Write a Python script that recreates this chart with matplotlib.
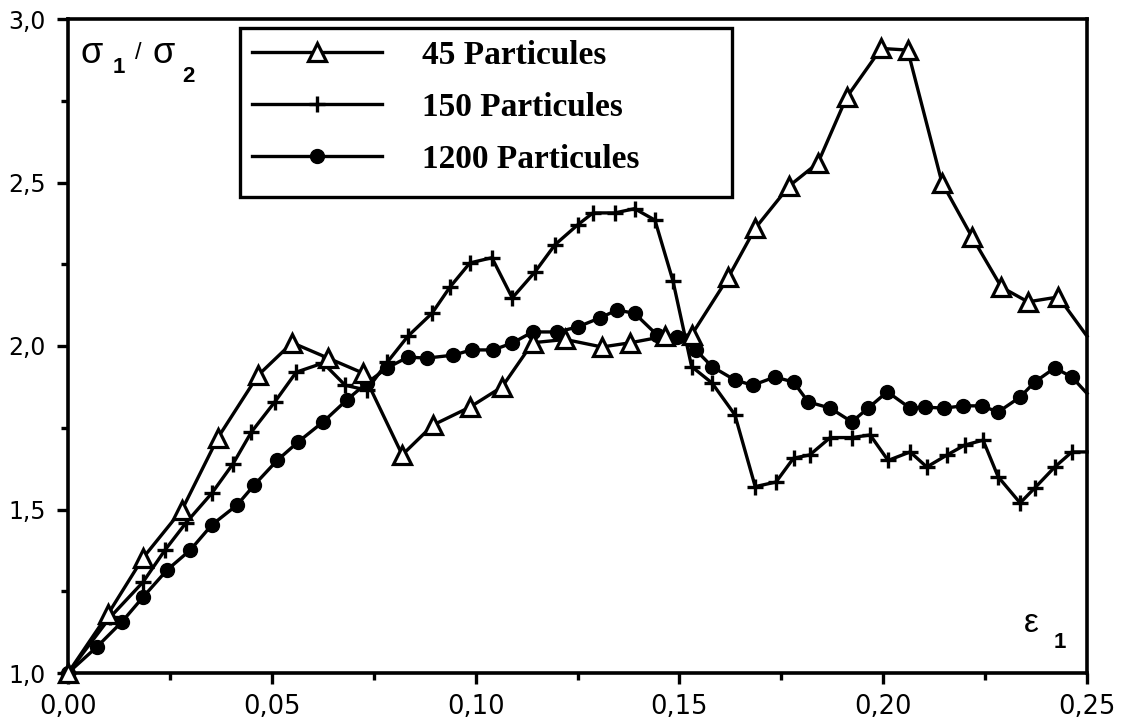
import matplotlib
matplotlib.use("Agg")
import matplotlib.pyplot as plt
from matplotlib.ticker import FixedLocator, FixedFormatter, MultipleLocator
from matplotlib.patches import Rectangle

# ---------------- data ----------------
eps45 = [0, 0.0098, 0.0184, 0.028, 0.0368, 0.0466, 0.055, 0.0638, 0.0724, 0.082,
         0.0895, 0.0986, 0.1065, 0.114, 0.122, 0.131, 0.138, 0.1465, 0.153, 0.162,
         0.1686, 0.177, 0.184, 0.191, 0.1995, 0.206, 0.2144, 0.2218, 0.229, 0.2355,
         0.243, 0.25]
s45 = [1.0, 1.18, 1.352, 1.50, 1.72, 1.91, 2.01, 1.963, 1.917, 1.667,
       1.758, 1.813, 1.875, 2.01, 2.02, 1.997, 2.01, 2.03, 2.034, 2.21,
       2.36, 2.49, 2.56, 2.76, 2.91, 2.905, 2.50, 2.333, 2.18, 2.135,
       2.15, 2.03]

eps150 = [0, 0.0103, 0.0184, 0.0238, 0.029, 0.0353, 0.0405, 0.045, 0.0508, 0.056,
          0.0626, 0.068, 0.0733, 0.0783, 0.0834, 0.0893, 0.0937, 0.0986, 0.104, 0.109,
          0.1146, 0.1195, 0.125, 0.1288, 0.1342, 0.139, 0.144, 0.1484, 0.153, 0.158,
          0.1636, 0.1686, 0.1737, 0.178, 0.182, 0.187, 0.1923, 0.1968, 0.2012, 0.2066,
          0.2107, 0.2157, 0.22, 0.2245, 0.2282, 0.2336, 0.2372, 0.2421, 0.2463, 0.25]
s150 = [1.0, 1.17, 1.278, 1.376, 1.46, 1.55, 1.64, 1.737, 1.83, 1.92,
        1.948, 1.88, 1.865, 1.95, 2.03, 2.10, 2.18, 2.254, 2.27, 2.147,
        2.227, 2.31, 2.37, 2.407, 2.407, 2.42, 2.385, 2.20, 1.937, 1.887,
        1.79, 1.57, 1.584, 1.657, 1.667, 1.72, 1.72, 1.728, 1.65, 1.676,
        1.63, 1.667, 1.697, 1.712, 1.60, 1.52, 1.566, 1.63, 1.676, 1.676]

eps1200 = [0, 0.0071, 0.0132, 0.0184, 0.0243, 0.03, 0.0353, 0.0415, 0.0457, 0.0513,
           0.0564, 0.0626, 0.0684, 0.0733, 0.0783, 0.0834, 0.088, 0.0945, 0.099, 0.1043,
           0.109, 0.114, 0.12, 0.125, 0.1305, 0.1347, 0.139, 0.1445, 0.1494, 0.154,
           0.158, 0.1636, 0.168, 0.1734, 0.178, 0.1816, 0.187, 0.1923, 0.1963, 0.201,
           0.2066, 0.2103, 0.2149, 0.2196, 0.2242, 0.2282, 0.2336, 0.2372, 0.2421, 0.2463,
           0.25]
s1200 = [1.0, 1.08, 1.156, 1.232, 1.315, 1.376, 1.453, 1.514, 1.575, 1.65,
         1.706, 1.768, 1.835, 1.887, 1.933, 1.966, 1.963, 1.972, 1.988, 1.988,
         2.009, 2.043, 2.043, 2.058, 2.086, 2.11, 2.10, 2.034, 2.028, 1.988,
         1.937, 1.896, 1.88, 1.905, 1.89, 1.829, 1.81, 1.768, 1.81, 1.86,
         1.81, 1.813, 1.81, 1.817, 1.817, 1.798, 1.844, 1.89, 1.933, 1.905,
         1.855]

labels = ["45 Particules", "150 Particules", "1200 Particules"]
xticks = [0.0, 0.05, 0.10, 0.15, 0.20, 0.25]
xticklabels = ["0,00", "0,05", "0,10", "0,15", "0,20", "0,25"]
yticks = [1.0, 1.5, 2.0, 2.5, 3.0]
yticklabels = ["1,0", "1,5", "2,0", "2,5", "3,0"]

# ---------------- figure ----------------
W, H = 1125, 721
fig = plt.figure(figsize=(W/100, H/100), dpi=100)
ax = fig.add_axes([68/W, 1-673/H, (1087-68)/W, (673-19)/H])

def fx(px):
    return px / W

def fy(py):
    return 1 - py / H

lw = 2.4
l1200, = ax.plot(eps1200, s1200, color="black", lw=lw, marker="o", ms=10,
                 mfc="black", mec="black", markevery=list(range(len(eps1200)-1)),
                 zorder=3, clip_on=False)
l150, = ax.plot(eps150, s150, color="black", lw=lw, marker="+", ms=11, mew=2.4,
                markevery=list(range(len(eps150)-1)), zorder=4, clip_on=False)
l45, = ax.plot(eps45, s45, color="black", lw=lw, marker="^", ms=12.5, mfc="white",
               mec="black", mew=2.3, markevery=list(range(len(eps45)-1)),
               zorder=5, clip_on=False)

ax.set_xlim(0, 0.25)
ax.set_ylim(1.0, 3.0)

ax.xaxis.set_major_locator(FixedLocator(xticks))
ax.xaxis.set_major_formatter(FixedFormatter(xticklabels))
ax.xaxis.set_minor_locator(MultipleLocator(0.025))
ax.yaxis.set_major_locator(FixedLocator(yticks))
ax.yaxis.set_major_formatter(FixedFormatter(yticklabels))
ax.yaxis.set_minor_locator(MultipleLocator(0.25))

for sp in ax.spines.values():
    sp.set_linewidth(2.6)
    sp.set_color("black")

ax.tick_params(axis="both", which="major", direction="out", length=8, width=2.4,
               colors="black")
ax.tick_params(axis="both", which="minor", direction="out", length=5, width=2.4)
ax.tick_params(axis="x", which="major", pad=7, labelsize=18.5)
ax.tick_params(axis="y", which="major", pad=8, labelsize=17)
for lab in ax.get_xticklabels() + ax.get_yticklabels():
    lab.set_fontfamily(["DejaVu Sans"])

# legend
leg = ax.legend([l45, l150, l1200], labels,
                loc="upper left", bbox_to_anchor=(fx(252), fy(40)),
                bbox_transform=fig.transFigure,
                prop={"family": "Liberation Serif", "weight": "bold", "size": 24},
                frameon=False, handlelength=3.9, handletextpad=1.2,
                labelspacing=0.63, borderpad=0, borderaxespad=0, numpoints=1)
fig.patches.append(Rectangle((fx(240), fy(197)), fx(732) - fx(240), fy(28) - fy(197),
                             transform=fig.transFigure, fill=False,
                             edgecolor="black", linewidth=2.4, zorder=10))

# axis labels inside the plot
fig.text(fx(80), fy(63), "σ", fontsize=26, family="Liberation Sans", va="baseline", ha="left")
fig.text(fx(113), fy(73), "1", fontsize=16, family="Liberation Sans",
         weight="bold", va="baseline", ha="left")
fig.text(fx(135), fy(59), "/", fontsize=17, family="Liberation Sans",
         va="baseline", ha="left")
fig.text(fx(152), fy(63), "σ", fontsize=26, family="Liberation Sans",
         va="baseline", ha="left")
fig.text(fx(182), fy(82), "2", fontsize=16, family="Liberation Sans",
         weight="bold", va="baseline", ha="left")

fig.text(fx(1024), fy(632), "ε", fontsize=24, family="Liberation Sans",
         va="baseline", ha="left")
fig.text(fx(1054), fy(648), "1", fontsize=16, family="Liberation Sans",
         weight="bold", va="baseline", ha="left")

fig.savefig("out.png", dpi=100)
